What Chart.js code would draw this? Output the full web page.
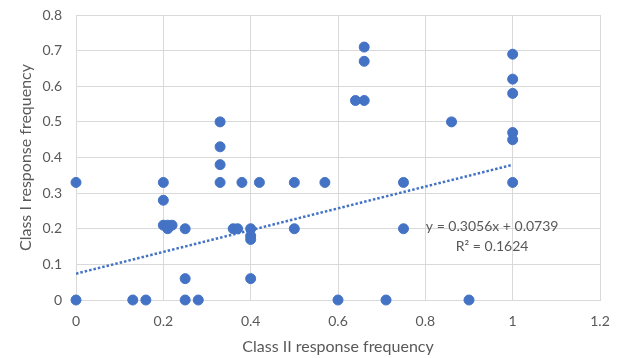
<!DOCTYPE html>
<html>
<head>
<meta charset="utf-8">
<script src="https://cdn.jsdelivr.net/npm/chart.js@4/dist/chart.umd.min.js"></script>
<style>
html, body { margin: 0; padding: 0; background: #fff; }
#wrap { width: 626px; height: 358px; }
</style>
</head>
<body>
<div id="wrap"><canvas id="mycanvas" width="626" height="358"></canvas></div>
<script>
// Class II response frequency (x) and Class I response frequency (y)
var classII = [0, 0, 0.13, 0.16, 0.2, 0.2, 0.2, 0.21, 0.21, 0.22, 0.25, 0.25, 0.25, 0.28,
	0.33, 0.33, 0.33, 0.33, 0.36, 0.37, 0.38, 0.42, 0.4, 0.4, 0.4, 0.4,
	0.5, 0.5, 0.57, 0.6, 0.64, 0.66, 0.66, 0.66, 0.71, 0.75, 0.75, 0.86, 0.9,
	1, 1, 1, 1, 1, 1];
var classI = [0.33, 0, 0, 0, 0.33, 0.28, 0.21, 0.21, 0.2, 0.21, 0.2, 0.06, 0, 0,
	0.5, 0.43, 0.38, 0.33, 0.2, 0.2, 0.33, 0.33, 0.2, 0.18, 0.17, 0.06,
	0.33, 0.2, 0.33, 0, 0.56, 0.56, 0.67, 0.71, 0, 0.33, 0.2, 0.5, 0,
	0.69, 0.62, 0.58, 0.47, 0.45, 0.33];

var slope = 0.3056;
var intercept = 0.0739;
var trendX = [0, 1];
var eqLines = ["y = 0.3056x + 0.0739", "R\u00b2 = 0.1624"];
var eqPos = [0.953, 0.205];

var points = [];
for (var i in classII) {
	points.push({x: classII[i], y: classI[i]});
}
var trend = [];
for (var j in trendX) {
	trend.push({x: trendX[j], y: slope * trendX[j] + intercept});
}

var textColor = "#595959";
var gridColor = "#d9d9d9";
var fontFamily = "Lato, 'Open Sans', sans-serif";

var eqPlugin = {
	id: "eqText",
	afterDatasetsDraw: function(chart) {
		var c = chart.ctx;
		var px = chart.scales.x.getPixelForValue(eqPos[0]);
		var py = chart.scales.y.getPixelForValue(eqPos[1]);
		c.save();
		c.fillStyle = textColor;
		c.font = "14px " + fontFamily;
		c.textAlign = "center";
		c.textBaseline = "middle";
		c.fillText(eqLines[0], px, py);
		c.fillText(eqLines[1], px, py + 20);
		c.restore();
	}
};

var ctx = document.getElementById("mycanvas");

var scatterChart = new Chart(ctx, {
	type: 'scatter',
	data: {
		datasets: [
			{
				label: "Responses",
				data: points,
				backgroundColor: "#4472C4",
				borderColor: "#4472C4",
				pointRadius: 5,
				pointHoverRadius: 5,
				clip: false,
				order: 1
			},
			{
				label: "Linear trend",
				type: 'line',
				data: trend,
				showLine: true,
				fill: false,
				borderColor: "#4472C4",
				borderWidth: 2.5,
				borderDash: [2.5, 2],
				pointRadius: 0,
				order: 2
			}
		]
	},
	options: {
		responsive: false,
		animation: false,
		layout: { padding: { top: 15, right: 26, left: 0, bottom: 0 } },
		plugins: {
			legend: { display: false },
			tooltip: { enabled: false }
		},
		scales: {
			x: {
				type: 'linear',
				min: 0,
				max: 1.2,
				ticks: {
					stepSize: 0.2,
					color: textColor,
					font: { family: fontFamily, size: 14 },
					padding: 13,
					callback: function(v) { return String(parseFloat(v.toFixed(1))); }
				},
				grid: { color: gridColor, drawTicks: false },
				border: { color: gridColor },
				title: {
					display: true,
					text: "Class II response frequency",
					color: textColor,
					font: { family: fontFamily, size: 16 },
					padding: { top: 0, bottom: 2 }
				},
				afterFit: function(axis) { axis.height = 58; }
			},
			y: {
				min: 0,
				max: 0.8,
				ticks: {
					stepSize: 0.1,
					color: textColor,
					font: { family: fontFamily, size: 14 },
					padding: 14,
					callback: function(v) { return String(parseFloat(v.toFixed(1))); }
				},
				grid: { color: gridColor, drawTicks: false },
				border: { color: gridColor },
				title: {
					display: true,
					text: "Class I response frequency",
					color: textColor,
					font: { family: fontFamily, size: 16 },
					padding: { top: 16, bottom: 0 }
				},
				afterFit: function(axis) {
					axis.width = 76;
					axis.paddingTop = 0;
					axis.paddingBottom = 0;
				}
			}
		}
	},
	plugins: [eqPlugin]
});
</script>
</body>
</html>
